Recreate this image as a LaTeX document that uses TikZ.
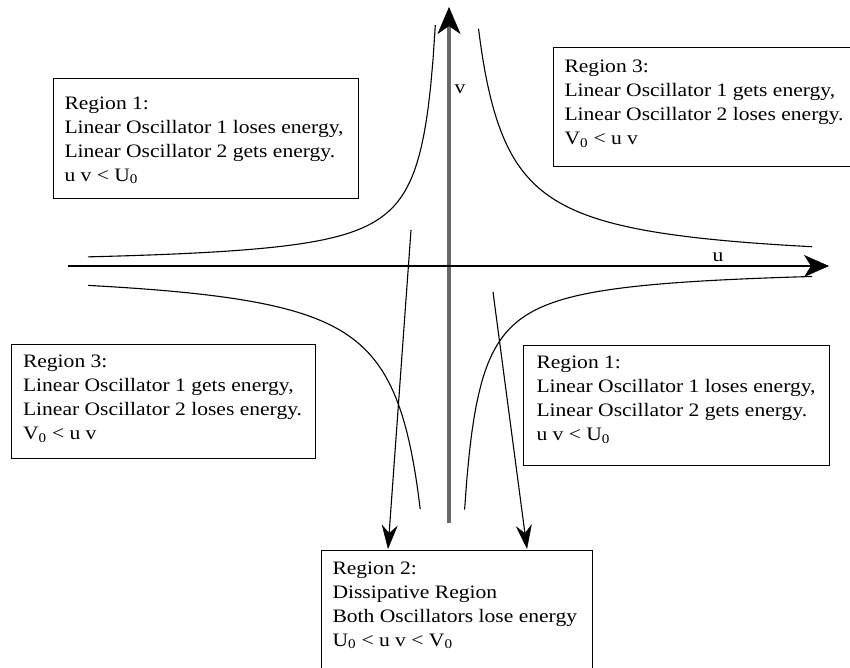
\documentclass[tikz,border=0pt]{standalone}
\usepackage{fontspec}
\setmainfont{Liberation Serif}[FakeStretch=1.135]
\usetikzlibrary{arrows.meta}
\newcommand{\regtext}[2]{\vtop{\hsize=#1\fontsize{19}{24}\selectfont #2}}
\newcommand{\tline}[1]{\hbox to \hsize{#1\hss}}
\begin{document}
\begin{tikzpicture}[x=1pt,y=-1pt,
  regbox/.style={draw=black, line width=1pt, inner xsep=11pt, inner ysep=0pt, anchor=base west},
  curve/.style={line width=1.1pt},
  conn/.style={line width=1.1pt, -{Stealth[length=24pt,width=16pt,inset=8pt,line width=0.5pt]}},
  lbl/.style={font=\fontsize{19}{24}\selectfont, inner sep=0pt}]
\clip (0,0) rectangle (850,667);
\useasboundingbox (0,0) rectangle (850,667);

% axes
\coordinate (vb) at (449,523);
\coordinate (vt) at (449,7);
\coordinate (ha) at (68,266);
\coordinate (hb) at (829,266);
\draw[line width=3.5pt, draw={rgb,255:red,105;green,105;blue,105},
  -{Stealth[length=27pt,width=23pt,inset=8pt,line width=0.5pt,color=black]}] (vb) -- (vt);
\draw[line width=2.5pt, -{Stealth[length=25pt,width=22pt,inset=7pt,line width=0.5pt]}] (ha) -- (hb);
\node[lbl, anchor=base] (vl) at (460,93) {v};
\node[lbl, anchor=base] (ul) at (718,261) {u};

% hyperbolas
\draw[curve] plot[domain=88:435.3, samples=150] (\x,{266-3300/(449-\x)});
\draw[curve] plot[domain=478.5:812, samples=150] (\x,{266-7000/(\x-449)});
\draw[curve] plot[domain=88:420.2, samples=150] (\x,{266+7000/(449-\x)});
\draw[curve] plot[domain=464.6:812, samples=150] (\x,{266+3800/(\x-449)});

% boxes
\node[regbox, text height=31pt, text depth=89pt] (r1a) at (53,109) {\regtext{283pt}{%
  \tline{Region 1:}\tline{Linear Oscillator 1 loses energy,}\tline{Linear Oscillator 2 gets energy.}\tline{u v < U\textsubscript{0}}}};
\node[regbox, text height=25pt, text depth=94pt] (r3a) at (553,72.5) {\regtext{310pt}{%
  \tline{Region 3:}\tline{Linear Oscillator 1 gets energy,}\tline{Linear Oscillator 2 loses energy.}\tline{V\textsubscript{0} < u v}}};
\node[regbox, inner xsep=11.5pt, text height=23.5pt, text depth=90.5pt] (r3b) at (11,367.5) {\regtext{281pt}{%
  \tline{Region 3:}\tline{Linear Oscillator 1 gets energy,}\tline{Linear Oscillator 2 loses energy.}\tline{V\textsubscript{0} < u v}}};
\node[regbox, inner xsep=13pt, text height=23.5pt, text depth=96.5pt] (r1b) at (523,368.5) {\regtext{280pt}{%
  \tline{Region 1:}\tline{Linear Oscillator 1 loses energy,}\tline{Linear Oscillator 2 gets energy.}\tline{u v < U\textsubscript{0}}}};
\node[regbox, text height=24pt, text depth=110pt] (r2) at (321,574) {\regtext{249pt}{%
  \tline{Region 2:}\tline{Dissipative Region}\tline{Both Oscillators lose energy}\tline{U\textsubscript{0} < u v < V\textsubscript{0}}}};

% arrows to region 2
\coordinate (a1s) at (411,230);
\coordinate (a1e) at (388,549);
\coordinate (a2s) at (493,292);
\coordinate (a2e) at (527,549);
\draw[conn] (a1s) -- (a1e);
\draw[conn] (a2s) -- (a2e);
\end{tikzpicture}
\end{document}
